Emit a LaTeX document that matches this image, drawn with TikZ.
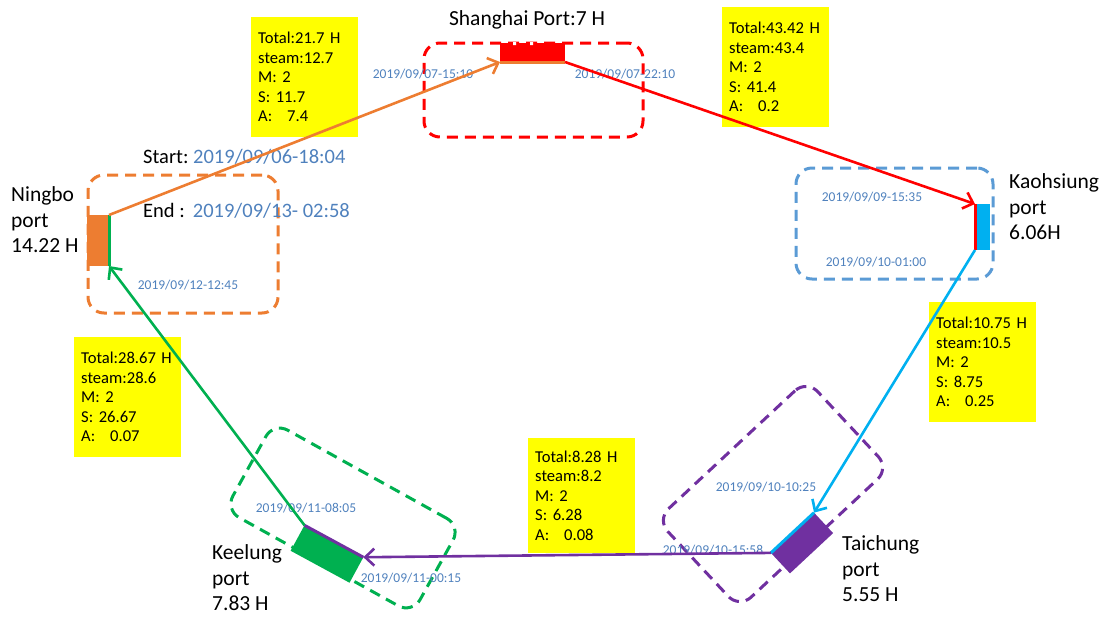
\documentclass[tikz,border=0pt]{standalone}
\usepackage{fontspec}
\setmainfont{Carlito}
\usetikzlibrary{arrows.meta,positioning}
\definecolor{portorange}{HTML}{ED7D31}
\definecolor{portred}{HTML}{FF0000}
\definecolor{zoneblue}{HTML}{5B9BD5}
\definecolor{legblue}{HTML}{00B0F0}
\definecolor{portpurple}{HTML}{7030A0}
\definecolor{portgreen}{HTML}{00B050}
\definecolor{datecol}{HTML}{4F81BD}
\definecolor{noteyellow}{HTML}{FFFF00}
\frenchspacing
\begin{document}
\begin{tikzpicture}
[x=1pt,y=-1pt,
 zone/.style={draw, line width=3pt, dash pattern=on 11pt off 7pt, rounded corners=16pt, inner sep=0},
 berth/.style={rectangle, inner sep=0, outer sep=0},
 portlabel/.style={font=\fontsize{21.5}{25.5}\selectfont, align=left, inner sep=0},
 date/.style={text=datecol, font=\fontsize{13.5}{15}\selectfont, inner sep=0},
 info/.style={fill=noteyellow, anchor=north west, text width=93pt, inner xsep=7pt, inner ysep=0,
   minimum height=120pt, align=left, font=\fontsize{16.6}{19.5}\selectfont},
 leg/.style={line width=2.6pt, -{Straight Barb[length=9pt,width=17pt]}},
 edge/.style={line width=3pt}]
\useasboundingbox (0,0) rectangle (1104,622);

% port zones
\node[zone, draw=portorange, minimum width=190pt, minimum height=138pt] (ningboZone) at (183,244) {};
\node[zone, draw=portred, minimum width=219pt, minimum height=94pt] (shanghaiZone) at (533.5,90) {};
\node[zone, draw=zoneblue, minimum width=197pt, minimum height=111pt] (kaohsiungZone) at (894.5,223.5) {};
\node[zone, draw=portpurple, rotate=43, minimum width=205pt, minimum height=121pt] (taichungZone) at (773,494) {};
\node[zone, draw=portgreen, rotate=-29, minimum width=214pt, minimum height=100pt] (keelungZone) at (343,518) {};

% berths
\node[berth, fill=portorange, minimum width=22pt, minimum height=51pt] (ningbo) at (98,240.5) {};
\node[berth, fill=portred, minimum width=65pt, minimum height=19pt] (shanghai) at (532.5,52.5) {};
\node[berth, fill=legblue, minimum width=15pt, minimum height=46pt] (kaohsiung) at (982.5,227) {};
\node[berth, fill=portpurple, rotate=43, minimum width=59pt, minimum height=28pt] (taichung) at (802,543) {};
\node[berth, fill=portgreen, rotate=-28.5, minimum width=67pt, minimum height=29pt] (keelung) at (327,554) {};
\fill[white] (513,42) rectangle (516,45) (530,42) rectangle (533,45);

\draw[edge, portgreen] (ningbo.north east) -- (ningbo.south east);
\draw[edge, portorange] (shanghai.south west) -- (shanghai.south east);
\draw[edge, portred] (kaohsiung.north west) -- (kaohsiung.south west);
\draw[edge, legblue] (taichung.north west) -- (taichung.north east);
\draw[edge, portpurple] (keelung.north west) -- (keelung.north east);

% names
\node[portlabel, anchor=west] (ningboName) at (11,220) {Ningbo\\port\\14.22 H};
\node[portlabel] (shanghaiName) at (527,20) {Shanghai Port:7 H};
\node[portlabel, anchor=west] (kaohsiungName) at (1009,207) {Kaohsiung\\port\\6.06H};
\node[portlabel, anchor=west] (taichungName) at (842,569) {Taichung\\port\\5.55 H};
\node[portlabel, anchor=west] (keelungName) at (212,578) {Keelung\\port\\7.83 H};

\node[anchor=west, inner sep=0, font=\fontsize{20.5}{22}\selectfont] (startTime) at (143,157) {Start: \textcolor{datecol}{2019/09/06-18:04}};
\node[anchor=west, inner sep=0, font=\fontsize{20.5}{22}\selectfont] (endTime) at (143,211) {End :\, \textcolor{datecol}{2019/09/13- 02:58}};

% arrival / departure times
\node[date] (shArr) at (423,74) {2019/09/07-15:10};
\node[date] (shDep) at (625,74) {2019/09/07-22:10};
\node[date] (khArr) at (872,197) {2019/09/09-15:35};
\node[date] (khDep) at (876,262) {2019/09/10-01:00};
\node[date] (tcArr) at (766,487) {2019/09/10-10:25};
\node[date] (tcDep) at (713,550) {2019/09/10-15:58};
\node[date] (klArr) at (411,578) {2019/09/11-00:15};
\node[date] (klDep) at (306,508) {2019/09/11-08:05};
\node[date] (nbArr) at (188,285) {2019/09/12-12:45};

% leg summaries
\node[info] (legOne) at (251,17) {Total:21.7 H\\steam:12.7\\M: 2\\S: 11.7\\A:\hspace{0.9em}7.4};
\node[info] (legTwo) at (722,7) {Total:43.42 H\\steam:43.4\\M: 2\\S: 41.4\\A:\hspace{0.9em}0.2};
\node[info] (legThree) at (929,302) {Total:10.75 H\\steam:10.5\\M: 2\\S: 8.75\\A:\hspace{0.9em}0.25};
\node[info, minimum height=115pt] (legFour) at (528,438) {Total:8.28 H\\steam:8.2\\M: 2\\S: 6.28\\A:\hspace{0.9em}0.08};
\node[info] (legFive) at (74,337) {Total:28.67 H\\steam:28.6\\M: 2\\S: 26.67\\A:\hspace{0.9em}0.07};

% voyage legs
\draw[leg, portorange] (ningbo.north east) -- (shanghai.south west);
\draw[leg, portred] (shanghai.south east) -- (kaohsiung.north west);
\draw[leg, legblue] (kaohsiung.south west) -- (taichung.north east);
\draw[leg, portpurple] (taichung.north west) -- (keelung.north east);
\draw[leg, portgreen] (keelung.north west) -- (ningbo.south east);
\end{tikzpicture}
\end{document}
